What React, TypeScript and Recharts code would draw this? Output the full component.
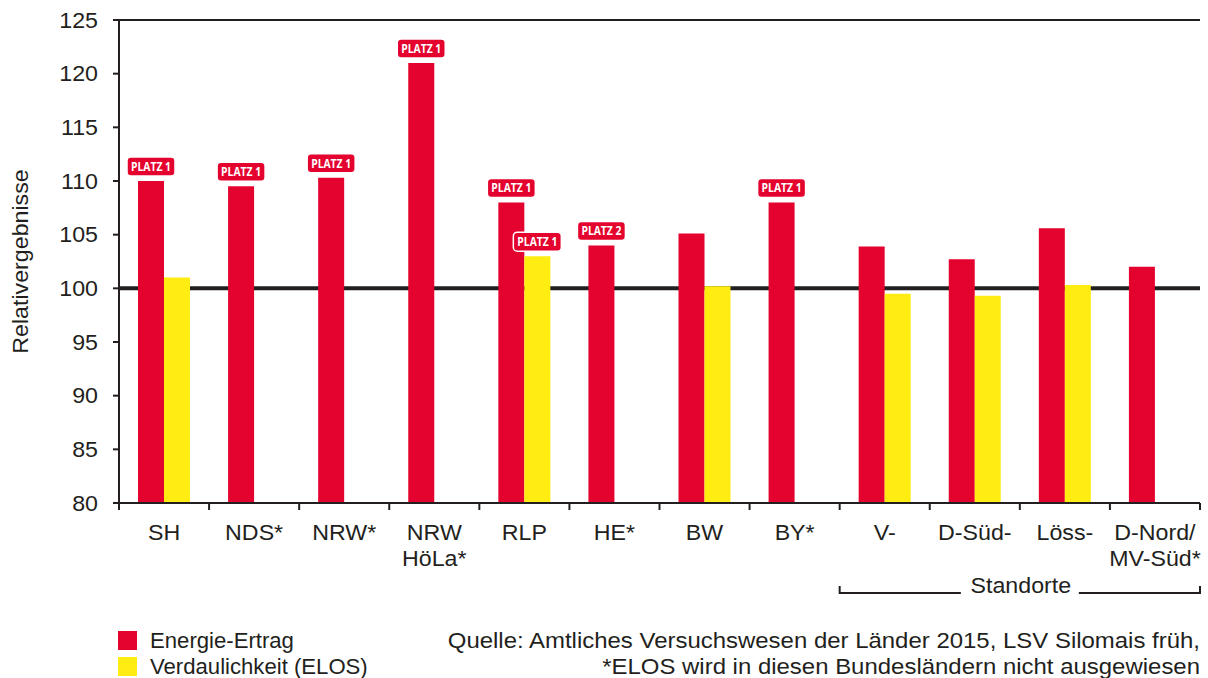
import React from 'react';
import { BarChart, Bar, XAxis, YAxis, CartesianGrid, ReferenceLine, LabelList } from 'recharts';

const labelLine1 = ['SH', 'NDS*', 'NRW*', 'NRW', 'RLP', 'HE*', 'BW', 'BY*', 'V-', 'D-Süd-', 'Löss-', 'D-Nord/'];
const labelLine2 = ['', '', '', 'HöLa*', '', '', '', '', '', '', '', 'MV-Süd'];
const energieErtrag = [110, 109.5, 110.3, 121, 108, 104, 105.1, 108, 103.9, 102.7, 105.6, 102];
const verdaulichkeit = [101, null, null, null, 103, null, 100.2, null, 99.5, 99.3, 100.3, null];
const badgeEnergie = ['PLATZ 1', 'PLATZ 1', 'PLATZ 1', 'PLATZ 1', 'PLATZ 1', 'PLATZ 2', null, 'PLATZ 1', null, null, null, null];
const badgeElos = [null, null, null, null, 'PLATZ 1', null, null, null, null, null, null, null];
const yTicks = [80, 85, 90, 95, 100, 105, 110, 115, 120, 125];
const seriesNames = ['Energie-Ertrag', 'Verdaulichkeit (ELOS)'];
const groupLabel = 'Standorte';
const groupStartIndex = 8;
const sourceLines = [
  'Quelle: Amtliches Versuchswesen der Länder 2015, LSV Silomais früh,',
  '*ELOS wird in diesen Bundesländern nicht ausgewiesen',
];
const yLabel = 'Relativergebnisse';

const data = labelLine1.map((n, i) => ({
  name: n,
  line2: labelLine2[i],
  energie: energieErtrag[i],
  elos: verdaulichkeit[i],
  bE: badgeEnergie[i],
  bL: badgeElos[i],
}));

const RED = '#E4032E';
const YELLOW = '#FFEC10';
const INK = '#231F20';
const FONT = '"Liberation Sans", Arial, sans-serif';
const FS = 21.5;
const SX = 1.08;

const W = 1208;
const H = 678;
const PLOT_LEFT = 119;
const PLOT_RIGHT = 1200;
const PLOT_TOP = 20;
const PLOT_BOTTOM = 503;
const BAND = (PLOT_RIGHT - PLOT_LEFT) / labelLine1.length;

const SText = ({ x, y, anchor = 'start', sx = SX, rotate = 0, children }: any) => (
  <text
    transform={`translate(${x},${y}) rotate(${rotate}) scale(${sx},1)`}
    textAnchor={anchor}
    fill={INK}
    fontFamily={FONT}
    fontSize={FS}
  >
    {children}
  </text>
);

const Badge = (props: any) => {
  const { x, y, width, value } = props;
  if (!value) return null;
  const cx = x + width / 2;
  const bw = 48;
  const bh = 19;
  const by = y - 5 - bh;
  return (
    <g>
      <rect x={cx - bw / 2} y={by} width={bw} height={bh} rx={4} ry={4} fill={RED} stroke="#fff" strokeWidth={1.5} />
      <text
        x={cx}
        y={by + bh / 2 + 4.5}
        textAnchor="middle"
        fill="#fff"
        fontFamily='"Open Sans", sans-serif'
        fontWeight={700}
        fontSize={12.5}
        textLength={40}
        lengthAdjust="spacingAndGlyphs"
      >
        {value}
      </text>
    </g>
  );
};

const XTick = (props: any) => {
  const { x, y, payload, index } = props;
  const l2 = data[index] ? data[index].line2 : '';
  const isLast = index === data.length - 1;
  return (
    <g>
      <line x1={x - BAND / 2} y1={y} x2={x - BAND / 2} y2={y + 7} stroke={INK} strokeWidth={2} />
      {isLast && <line x1={x + BAND / 2} y1={y} x2={x + BAND / 2} y2={y + 7} stroke={INK} strokeWidth={2} />}
      <SText x={x} y={y + 37} anchor="middle">
        {payload.value}
      </SText>
      {l2 && (
        <SText x={x} y={y + 63} anchor="middle">
          {l2}
          {isLast ? <tspan>*</tspan> : null}
        </SText>
      )}
    </g>
  );
};

const YTick = (props: any) => {
  const { x, y, payload } = props;
  return (
    <SText x={x} y={y + 7.5} anchor="end">
      {payload.value}
    </SText>
  );
};

export default function App() {
  const gStart = PLOT_LEFT + groupStartIndex * BAND;
  const gMid = (gStart + PLOT_RIGHT) / 2 + 1;
  const bracketY = 593;
  return (
    <div style={{ position: 'absolute', left: 0, top: 0, width: W, height: H, background: '#fff' }}>
      <BarChart
        width={W}
        height={H}
        data={data}
        margin={{ top: PLOT_TOP, right: W - PLOT_RIGHT, bottom: 0, left: PLOT_LEFT - 60 }}
        barGap={0}
        barSize={26}
      >
        <CartesianGrid horizontal vertical={false} stroke={INK} strokeWidth={2} strokeOpacity={1} />
        <ReferenceLine yAxisId="l" y={100} stroke={INK} strokeWidth={4} zIndex={-50} />
        <XAxis
          dataKey="name"
          height={H - PLOT_BOTTOM}
          tickLine={false}
          tickSize={0}
          tickMargin={0}
          axisLine={{ stroke: INK, strokeWidth: 2 }}
          tick={<XTick />}
          interval={0}
        />
        <YAxis
          yAxisId="l"
          width={60}
          domain={[80, 125]}
          ticks={yTicks}
          interval={0}
          tickSize={6}
          tickMargin={15}
          tickLine={{ stroke: INK, strokeWidth: 2 }}
          axisLine={{ stroke: INK, strokeWidth: 2 }}
          tick={<YTick />}
        />
        <YAxis
          yAxisId="r"
          orientation="right"
          width={0}
          domain={[80, 125]}
          tick={false}
          tickLine={false}
          axisLine={{ stroke: INK, strokeWidth: 2 }}
        />
        <Bar yAxisId="l" dataKey="energie" fill={RED} isAnimationActive={false}>
          <LabelList dataKey="bE" content={<Badge />} />
        </Bar>
        <Bar yAxisId="l" dataKey="elos" fill={YELLOW} isAnimationActive={false}>
          <LabelList dataKey="bL" content={<Badge />} />
        </Bar>
      </BarChart>
      <svg width={W} height={H} style={{ position: 'absolute', left: 0, top: 0, pointerEvents: 'none' }}>
        <SText x={28} y={(PLOT_TOP + PLOT_BOTTOM) / 2} anchor="middle" rotate={-90}>
          {yLabel}
        </SText>
        <polyline points={`${gStart},${bracketY - 7} ${gStart},${bracketY} ${gMid - 60},${bracketY}`} fill="none" stroke={INK} strokeWidth={2} />
        <polyline points={`${gMid + 58},${bracketY} ${PLOT_RIGHT},${bracketY} ${PLOT_RIGHT},${bracketY - 7}`} fill="none" stroke={INK} strokeWidth={2} />
        <SText x={gMid} y={bracketY} anchor="middle">
          {groupLabel}
        </SText>
        {seriesNames.map((n, i) => (
          <g key={n}>
            <rect x={118} y={631 + i * 26} width={19} height={19} fill={i === 0 ? RED : YELLOW} />
            <SText x={150} y={648 + i * 26} sx={1.03}>
              {n}
            </SText>
          </g>
        ))}
        {sourceLines.map((s, i) => (
          <SText key={i} x={PLOT_RIGHT} y={648 + i * 26} anchor="end" sx={1.115}>
            {s}
          </SText>
        ))}
      </svg>
    </div>
  );
}
